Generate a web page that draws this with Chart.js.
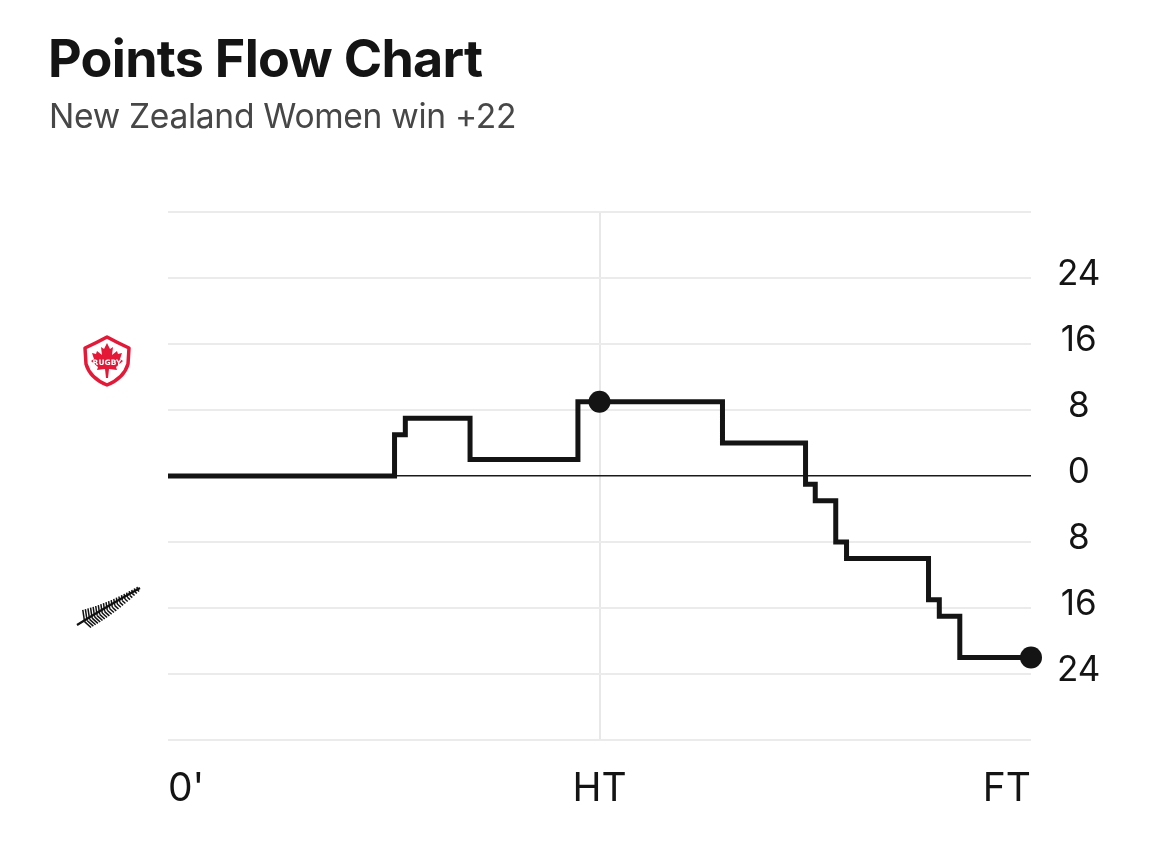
<!DOCTYPE html>
<html>
<head>
<meta charset="utf-8">
<title>Points Flow Chart</title>
<script src="https://cdn.jsdelivr.net/npm/chart.js@4.4.1/dist/chart.umd.min.js"></script>
<style>
  body { margin: 0; background: #fff; font-family: Inter, "Noto Sans", sans-serif; }
  #wrap { position: relative; width: 1170px; height: 845px; overflow: hidden; }
  #myChart { position: absolute; left: 0; top: 0; }
  h1 { position: absolute; left: 48px; top: 33px; margin: 0; font-size: 52px; line-height: 1;
       font-weight: 700; color: #141414; letter-spacing: -0.7px; }
  .sub { position: absolute; left: 49px; top: 99px; margin: 0; font-size: 33.6px; line-height: 1;
         color: #474747; letter-spacing: -0.3px; }
  .logo { position: absolute; }
</style>
</head>
<body>
<div id="wrap">
  <canvas id="myChart" width="1170" height="845"></canvas>
  <h1>Points Flow Chart</h1>
  <p class="sub">New Zealand Women win +22</p>

  <!-- Canada logo -->
  <svg class="logo" style="left:80px;top:334px" width="54" height="54" viewBox="0 0 54 54">
    <path d="M5 14 Q16 9 27 3 Q38 9 49 14 L48 30 Q44 44 27 51 Q10 44 6 30 Z"
          fill="#fff" stroke="#e31937" stroke-width="3.5" stroke-linejoin="round"/>
    <path d="M27 9 L30 15 L33 13 L32 21 L37 17 L38 20 L42 19 L40 25 L43 27 L36 33 L37 36 L29 35 L28 44 L26 44 L25 35 L17 36 L18 33 L11 27 L14 25 L12 19 L16 20 L17 17 L22 21 L21 13 L24 15 Z"
          fill="#e31937"/>
    <text x="27" y="31" text-anchor="middle" font-family="DejaVu Sans" font-weight="700" font-size="7.5" fill="#fff">RUGBY</text>
  </svg>

  <!-- New Zealand fern -->
  <svg class="logo" id="fern" style="left:74px;top:584px" width="70" height="44" viewBox="0 0 70 44"></svg>
</div>

<script>
// match minute, margin (+ Canada ahead, - New Zealand ahead)
const minutes = [0, 21, 22, 28, 38, 40, 51.4, 59.1, 60, 61.9, 62.9, 70.5, 71.5, 73.4, 80];
const margin  = [0,  5,  7,  2,  9,  9,    4,   -1, -3,   -8,  -10,  -15,  -17,  -22, -22];
const markerMinutes = [40, 80];

const xTickValues = [0, 40, 80];
const xTickLabels = ["0'", "HT", "FT"];
const yTickValues = [-32, -24, -16, -8, 0, 8, 16, 24, 32];
const yTickLabels = ['', '24', '16', '8', '0', '8', '16', '24', ''];

// fern drawing (decoration only)
(function () {
  const svg = document.getElementById('fern');
  let s = '<path d="M3 41 Q30 24 66 4" stroke="#111" stroke-width="2.2" fill="none"/>';
  for (let i = 0; i < 22; i++) {
    const t = 0.12 + i * 0.04;
    const x = 3 + t * 63, y = 41 - t * 37 + Math.sin(t * 3.1) * 3;
    const len = 13 * (1 - t * 0.8);
    s += '<line x1="' + x + '" y1="' + y + '" x2="' + (x - len * 0.15) + '" y2="' + (y - len) + '" stroke="#111" stroke-width="1.5"/>';
    s += '<line x1="' + x + '" y1="' + y + '" x2="' + (x + len * 0.55) + '" y2="' + (y + len * 0.5) + '" stroke="#111" stroke-width="1.5"/>';
  }
  svg.innerHTML = s;
})();

const ctx = document.getElementById('myChart');

new Chart(ctx, {
  type: 'line',
  data: {
    datasets: [{
      data: minutes.map((m, i) => ({ x: m, y: margin[i] })),
      stepped: true,
      borderColor: '#141414',
      borderWidth: 5,
      borderJoinStyle: 'miter',
      pointRadius: c => markerMinutes.includes(minutes[c.dataIndex]) ? 11 : 0,
      pointBackgroundColor: '#141414',
      pointBorderWidth: 0,
      clip: false,
      fill: false
    }]
  },
  options: {
    responsive: false,
    animation: false,
    devicePixelRatio: 1,
    layout: { padding: { left: 168, top: 212, right: 0, bottom: 0 } },
    plugins: {
      legend: { display: false },
      tooltip: { enabled: false }
    },
    scales: {
      x: {
        type: 'linear',
        min: 0,
        max: 80,
        afterBuildTicks: scale => { scale.ticks = xTickValues.map(v => ({ value: v })); },
        afterFit: scale => { scale.height = 105; },
        border: { display: false },
        grid: {
          drawTicks: false,
          lineWidth: 2,
          color: c => (c.tick && c.tick.value === 40) ? '#e8e8e8' : 'rgba(0,0,0,0)'
        },
        ticks: {
          autoSkip: false,
          maxRotation: 0,
          align: 'inner',
          padding: 26,
          color: '#141414',
          font: { family: 'Inter', size: 39 },
          callback: (v, i) => xTickLabels[i]
        }
      },
      y: {
        position: 'right',
        min: -32,
        max: 32,
        afterBuildTicks: scale => { scale.ticks = yTickValues.map(v => ({ value: v })); },
        afterFit: scale => { scale.width = 139; },
        border: { display: false },
        grid: {
          drawTicks: false,
          color: c => (c.tick && c.tick.value === 0) ? '#1a1a1a' : '#ebebeb',
          lineWidth: c => (c.tick && c.tick.value === 0) ? 1.5 : 2
        },
        ticks: {
          autoSkip: false,
          crossAlign: 'center',
          padding: 26,
          labelOffset: -4,
          color: '#141414',
          font: { family: 'Inter', size: 35 },
          callback: (v, i) => yTickLabels[i]
        }
      }
    }
  }
});
</script>
</body>
</html>
